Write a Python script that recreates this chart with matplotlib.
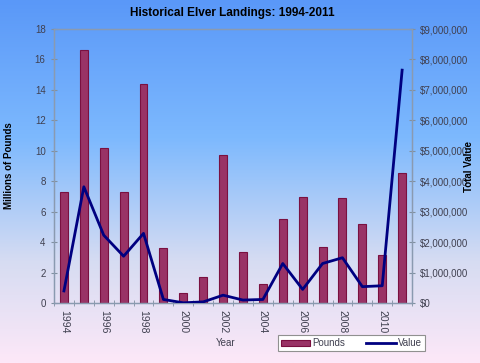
import numpy as np
import matplotlib.pyplot as plt
from matplotlib.colors import LinearSegmentedColormap
from matplotlib.ticker import FuncFormatter

plt.rcParams['font.family'] = ['Liberation Sans', 'DejaVu Sans']

# Data
years = list(range(1994, 2012))
pounds = [7.3, 16.6, 10.2, 7.3, 14.4, 3.6, 0.65, 1.7, 9.7, 3.35, 1.25,
          5.5, 7.0, 3.7, 6.9, 5.2, 3.15, 8.55]          # millions of lbs
value = [0.40, 3.82, 2.23, 1.54, 2.29, 0.12, 0.01, 0.04, 0.26, 0.10, 0.12,
         1.30, 0.45, 1.30, 1.49, 0.54, 0.57, 7.65]      # millions of $

fig = plt.figure(figsize=(4.8, 3.63), dpi=100)

# gradient background over the whole figure
bg = fig.add_axes([0, 0, 1, 1], zorder=-10)
cmap = LinearSegmentedColormap.from_list(
    'bg', [(0, '#5a98f8'), (0.38, '#7db9fe'), (0.72, '#d6dcf2'), (1.0, '#fde8f8')])
bg.imshow(np.linspace(0, 1, 256).reshape(-1, 1), aspect='auto', cmap=cmap,
          extent=[0, 1, 0, 1])
bg.axis('off')

ax = fig.add_axes([0.1125, 0.165, 0.746, 0.755])
ax.patch.set_alpha(0)
x = np.arange(len(years))
ax.bar(x, pounds, width=0.4, color='#993366', edgecolor='#7a1040',
       linewidth=0.8, label='Pounds', zorder=2)
ax.set_xlim(-0.5, len(years) - 0.5)
ax.set_ylim(0, 18)
ax.set_yticks(range(0, 19, 2))

ax2 = ax.twinx()
ax2.plot(x, value, color='#000080', linewidth=2, label='Value', zorder=3)
ax2.set_ylim(0, 9)
ax2.set_yticks(range(0, 10))
ax2.yaxis.set_major_formatter(FuncFormatter(lambda v, p: '${:,.0f}'.format(v * 1e6)))

# x axis: labels on even years, tick marks between categories
ax.set_xticks(x[::2])
ax.set_xticklabels([str(y) for y in years[::2]], rotation=270)
ax.set_xticks(np.arange(-0.5, len(years), 1), minor=True)
ax.tick_params(axis='x', which='major', length=0, pad=5)
ax.tick_params(axis='x', which='minor', length=5, direction='inout', color='#8090a0')

for a in (ax, ax2):
    for s in a.spines.values():
        s.set_color('#8a9ab0')
        s.set_linewidth(0.9)
    a.tick_params(axis='y', length=5, direction='inout', color='#8090a0',
                  labelsize=7, labelcolor='#404050')
ax.tick_params(axis='x', labelsize=7.5, labelcolor='#404050')

fig.text(0.483, 0.963, 'Historical Elver Landings: 1994-2011', ha='center',
         va='center', fontsize=8.5, fontweight='bold')
fig.text(0.019, 0.545, 'Millions of Pounds', rotation=90, ha='center',
         va='center', fontsize=7, fontweight='bold')
fig.text(0.978, 0.54, 'Total Value', rotation=90, ha='center',
         va='center', fontsize=7, fontweight='bold')
fig.text(0.471, 0.055, 'Year', ha='center', va='center', fontsize=7,
         color='#404050')

h1, l1 = ax.get_legend_handles_labels()
h2, l2 = ax2.get_legend_handles_labels()
leg = fig.legend(h1 + h2, l1 + l2, ncol=2, loc='center',
                 bbox_to_anchor=(0.732, 0.054), fontsize=7, frameon=True,
                 fancybox=False, edgecolor='#909090', framealpha=1,
                 borderpad=0.3, handlelength=3, handleheight=0.5,
                 columnspacing=2.2, handletextpad=0.2)
leg.get_frame().set_linewidth(0.8)
for t in leg.get_texts():
    t.set_color('#404050')

fig.savefig('out.png', dpi=100)
